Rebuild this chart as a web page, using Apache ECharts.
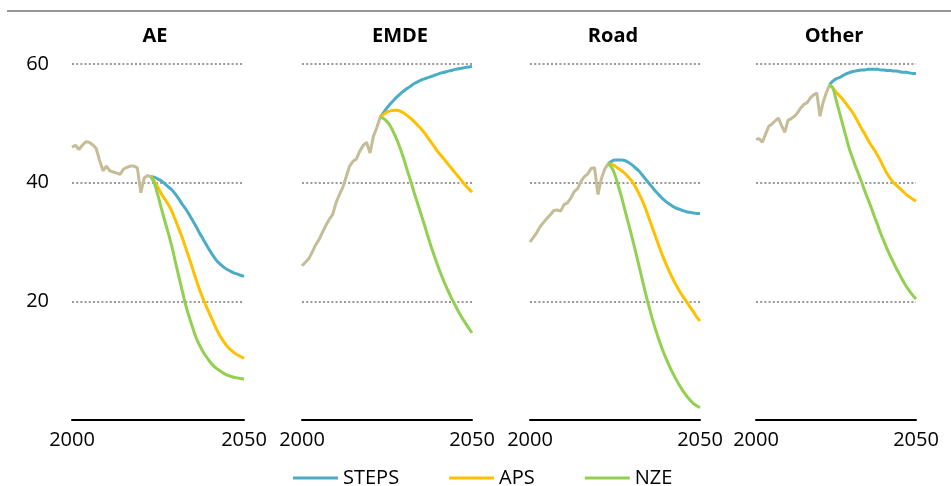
<!DOCTYPE html>
<html>
<head>
<meta charset="utf-8">
<script src="https://cdn.jsdelivr.net/npm/echarts@6/dist/echarts.min.js"></script>
<style>
html,body{margin:0;padding:0;background:#fff;}
#chart{width:951px;height:486px;}
</style>
</head>
<body>
<div id="chart"></div>
<script>
// ---- Data ----
const histYears = [2000,2001,2002,2003,2004,2005,2006,2007,2008,2009,2010,2011,2012,2013,2014,2015,2016,2017,2018,2019,2020,2021,2022,2023];
const projYears = [2023,2024,2025,2026,2027,2028,2029,2030,2031,2032,2033,2034,2035,2036,2037,2038,2039,2040,2041,2042,2043,2044,2045,2046,2047,2048,2049,2050];

const panelTitles = ['AE', 'EMDE', 'Road', 'Other'];
const scenarioNames = ['STEPS', 'APS', 'NZE'];
const xTickLabels = ['2000', '2050'];
const yTickLabels = ['20', '40', '60'];

const aeHist = [46.0,46.3,45.6,46.3,46.9,46.8,46.4,45.8,43.8,42.0,42.8,42.0,41.8,41.6,41.4,42.3,42.6,42.8,42.8,42.5,38.3,40.8,41.2,41.0];
const aeSteps = [41.0,40.9,40.6,40.3,39.8,39.3,38.8,38.1,37.3,36.4,35.6,34.7,33.7,32.7,31.6,30.6,29.6,28.6,27.7,26.9,26.3,25.8,25.4,25.1,24.8,24.6,24.4,24.2];
const aeAps = [41.0,40.2,39.2,38.1,37.2,36.3,35.2,33.8,32.3,30.8,29.1,27.4,25.6,23.8,22.1,20.6,19.2,17.9,16.6,15.3,14.2,13.3,12.5,11.9,11.4,11.0,10.7,10.4];
const aeNze = [41.0,39.8,37.8,35.6,33.5,31.5,29.3,26.8,24.3,21.9,19.5,17.5,15.7,14.0,12.7,11.6,10.7,9.9,9.2,8.7,8.3,7.9,7.6,7.4,7.2,7.1,7.0,6.9];

const emdeHist = [26.0,26.6,27.2,28.3,29.5,30.4,31.6,32.8,33.8,34.6,36.6,38.0,39.2,41.0,42.8,43.6,44.0,45.3,46.3,46.8,45.0,47.8,49.3,51.0];
const emdeSteps = [51.0,51.8,52.6,53.3,53.9,54.5,55.0,55.5,55.9,56.3,56.7,57.0,57.3,57.5,57.7,57.9,58.1,58.3,58.5,58.6,58.8,58.9,59.1,59.2,59.3,59.4,59.5,59.6];
const emdeAps = [51.0,51.5,51.9,52.1,52.2,52.2,52.0,51.7,51.3,50.8,50.3,49.7,49.1,48.4,47.6,46.8,46.0,45.2,44.5,43.8,43.1,42.4,41.7,41.0,40.3,39.6,39.0,38.4];
const emdeNze = [51.0,50.8,50.3,49.5,48.4,47.1,45.6,43.9,42.0,40.2,38.3,36.5,34.7,32.9,31.0,29.2,27.5,25.9,24.4,23.0,21.7,20.5,19.4,18.3,17.3,16.4,15.5,14.7];

const roadHist = [30.0,30.8,31.6,32.6,33.3,34.0,34.6,35.3,35.4,35.2,36.3,36.6,37.4,38.5,39.0,40.2,41.0,41.5,42.4,42.5,38.0,40.7,42.3,43.2];
const roadSteps = [43.2,43.6,43.8,43.8,43.8,43.7,43.4,43.0,42.5,42.0,41.3,40.6,39.9,39.2,38.5,37.9,37.3,36.8,36.4,36.0,35.7,35.5,35.3,35.1,35.0,34.9,34.8,34.8];
const roadAps = [43.2,43.1,42.8,42.4,42.0,41.5,40.9,40.2,39.3,38.2,37.0,35.6,34.0,32.4,30.8,29.2,27.7,26.3,25.0,23.8,22.7,21.7,20.8,20.0,19.1,18.3,17.4,16.7];
const roadNze = [43.2,42.6,41.3,39.4,37.4,35.2,33.0,30.8,28.5,26.1,23.7,21.3,19.1,17.0,15.1,13.4,11.8,10.4,9.1,7.9,6.8,5.8,4.9,4.1,3.4,2.8,2.4,2.1];

const otherHist = [47.3,47.4,46.8,48.2,49.5,49.9,50.4,50.9,49.6,48.5,50.5,50.8,51.2,51.8,52.6,53.2,53.5,54.3,54.8,55.1,51.2,53.6,55.2,56.5];
const otherSteps = [56.5,57.1,57.5,57.7,58.0,58.3,58.5,58.7,58.8,58.9,59.0,59.0,59.1,59.1,59.1,59.1,59.0,59.0,58.9,58.9,58.8,58.8,58.7,58.6,58.6,58.5,58.4,58.4];
const otherAps = [56.5,55.9,55.3,54.7,54.1,53.4,52.7,52.0,51.1,50.1,49.1,48.2,47.2,46.3,45.5,44.6,43.6,42.5,41.5,40.7,40.0,39.5,39.0,38.5,38.0,37.6,37.2,36.9];
const otherNze = [56.5,56.0,54.0,52.0,50.0,48.0,46.0,44.4,42.9,41.5,40.1,38.6,37.2,35.8,34.3,32.9,31.4,30.1,28.8,27.6,26.5,25.4,24.4,23.4,22.5,21.7,21.0,20.4];

// ---- Layout / style ----
const FONT = '"Open Sans", "Liberation Sans", sans-serif';
const panelData = [
  [aeHist, aeSteps, aeAps, aeNze],
  [emdeHist, emdeSteps, emdeAps, emdeNze],
  [roadHist, roadSteps, roadAps, roadNze],
  [otherHist, otherSteps, otherAps, otherNze]
];
const gridLefts = [72, 302, 530, 756];
const gridWidths = [172, 170, 170, 160];
const titleCenters = [155, 400, 613, 834];
const histColor = '#C4BD97';
const scenColors = ['#4BACC6', '#FFC000', '#92D050'];

function pairs(xs, ys) { return xs.map((x, i) => [x, ys[i]]); }

const grids = [], xAxes = [], yAxes = [], series = [], graphics = [];
panelData.forEach((pd, i) => {
  grids.push({ left: gridLefts[i], width: gridWidths[i], top: 64, height: 356 });
  xAxes.push({
    type: 'value', gridIndex: i, min: 2000, max: 2050, interval: 50,
    axisLine: { show: true, onZero: false, lineStyle: { color: '#000', width: 2 } },
    axisTick: { show: false }, splitLine: { show: false },
    axisLabel: { show: true, margin: 10, color: '#000', fontSize: 20, fontFamily: FONT,
      formatter: v => xTickLabels.indexOf(String(v)) >= 0 ? String(v) : '' }
  });
  yAxes.push({
    type: 'value', gridIndex: i, min: 0, max: 60, interval: 20,
    axisLine: { show: false }, axisTick: { show: false },
    splitLine: { show: true, lineStyle: { color: '#9a9a9a', width: 2, type: [2, 2.2] } },
    axisLabel: { show: i === 0, margin: 23, color: '#000', fontSize: 20, fontFamily: FONT,
      formatter: v => yTickLabels.indexOf(String(v)) >= 0 ? String(v) : '' }
  });
  series.push({
    name: 'Historical', type: 'line', xAxisIndex: i, yAxisIndex: i,
    data: pairs(histYears, pd[0]), symbol: 'none', silent: true,
    lineStyle: { color: histColor, width: 3 }, itemStyle: { color: histColor }
  });
  for (let s = 0; s < 3; s++) {
    series.push({
      name: scenarioNames[s], type: 'line', xAxisIndex: i, yAxisIndex: i,
      data: pairs(projYears, pd[s + 1]), symbol: 'none', smooth: 0.3, silent: true,
      lineStyle: { color: scenColors[s], width: 3 }, itemStyle: { color: scenColors[s] }
    });
  }
  graphics.push({
    type: 'text', x: titleCenters[i], y: 36,
    style: { text: panelTitles[i], fill: '#000', font: 'bold 20px ' + FONT,
      textAlign: 'center', textVerticalAlign: 'middle' }
  });
});

graphics.push({
  type: 'line', shape: { x1: 7, y1: 11, x2: 951, y2: 11 },
  style: { stroke: '#959595', lineWidth: 2 }
});

const chart = echarts.init(document.getElementById('chart'), null, { renderer: 'canvas' });
chart.setOption({
  animation: false,
  backgroundColor: '#fff',
  textStyle: { fontFamily: FONT },
  grid: grids, xAxis: xAxes, yAxis: yAxes, series: series,
  graphic: graphics,
  legend: {
    data: scenarioNames, left: 288, top: 463, icon: 'rect',
    itemWidth: 45, itemHeight: 3, itemGap: 50,
    textStyle: { color: '#000', fontSize: 20, fontFamily: FONT, padding: [0, 0, 0, 0] },
    selectedMode: false
  }
});
</script>
</body>
</html>
